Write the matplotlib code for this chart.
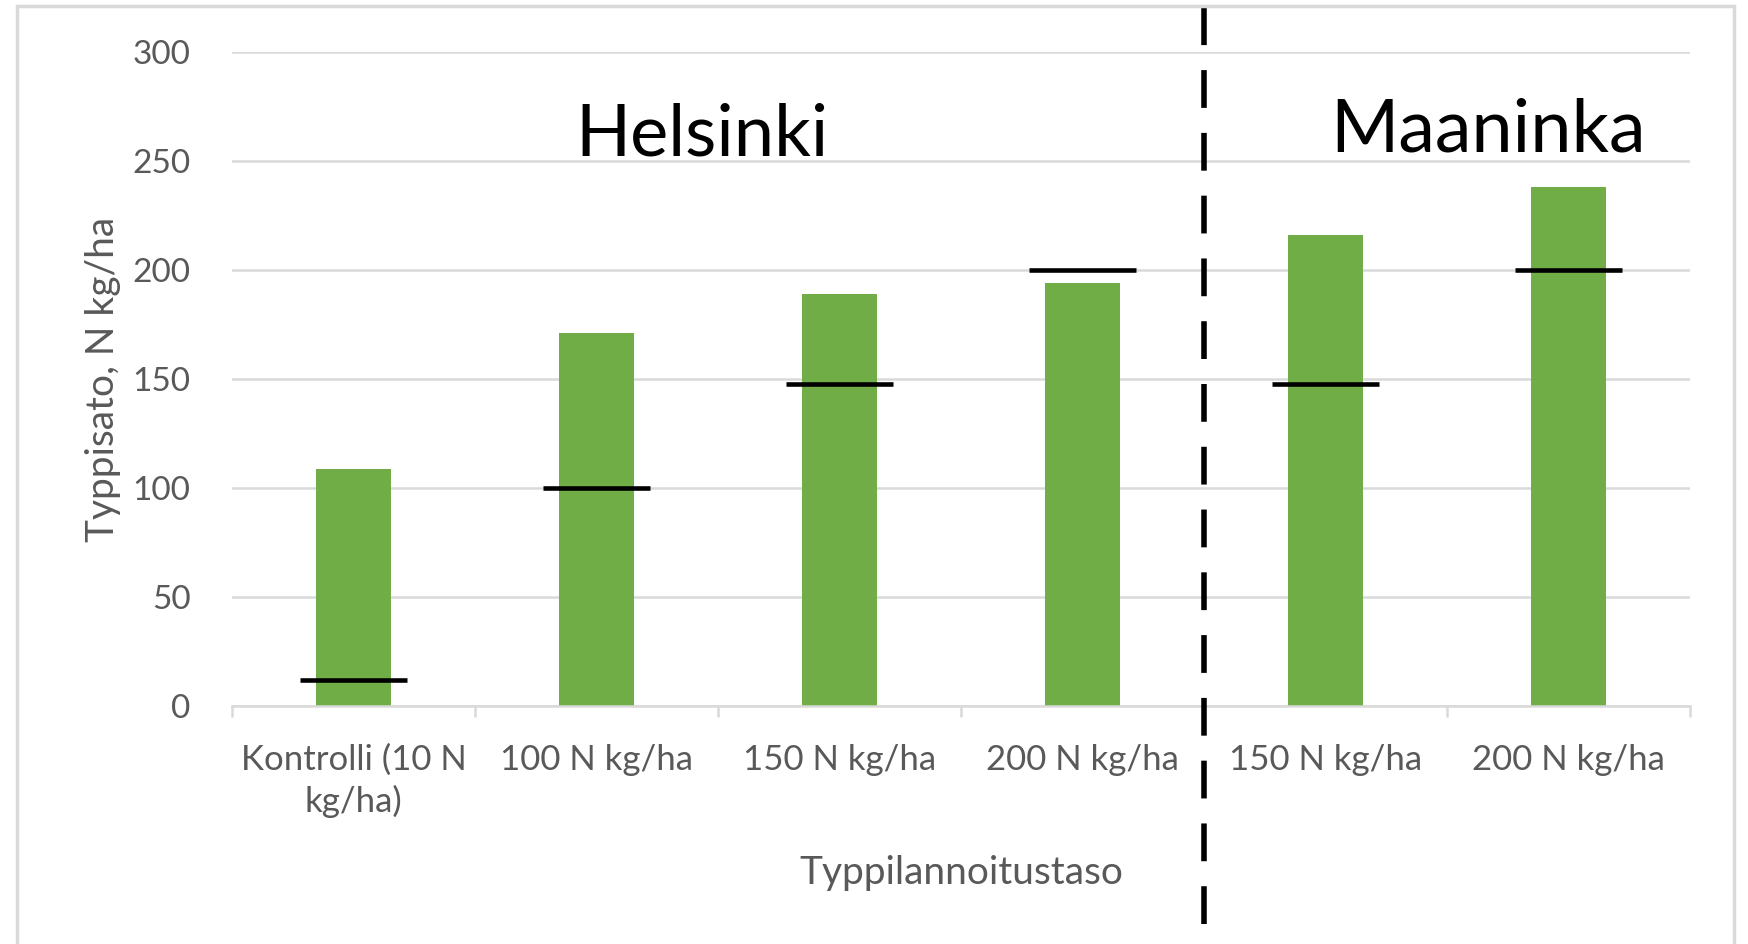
import matplotlib.pyplot as plt
from matplotlib.patches import Rectangle

# data
categories = ["Kontrolli (10 N\nkg/ha)", "100 N kg/ha", "150 N kg/ha",
              "200 N kg/ha", "150 N kg/ha", "200 N kg/ha"]
yield_n = [109, 171, 189, 194, 216, 238]      # green bars
applied_n = [12, 100, 148, 200, 148, 200]     # black dash markers
y_ticks = [0, 50, 100, 150, 200, 250, 300]

green = "#70AD47"
grey_txt = "#595959"
grid_c = "#D9D9D9"

plt.rcParams['font.family'] = ['Lato', 'DejaVu Sans']

fig = plt.figure(figsize=(17.49, 9.44), dpi=100)
ax = fig.add_axes([0.1327, 0.252, 0.8335, 0.6925])

x = list(range(len(categories)))
ax.bar(x, yield_n, width=0.31, color=green, zorder=2)
ax.hlines(applied_n, [i - 0.22 for i in x], [i + 0.22 for i in x],
          colors="black", linewidth=3.3, zorder=3)

ax.set_xlim(-0.5, len(categories) - 0.5)
ax.set_ylim(0, 300)
ax.set_yticks(y_ticks)
ax.yaxis.grid(True, color=grid_c, linewidth=1.8, zorder=0)
ax.set_axisbelow(True)

for s in ["top", "right", "left"]:
    ax.spines[s].set_visible(False)
ax.spines["bottom"].set_color(grid_c)
ax.spines["bottom"].set_linewidth(1.8)

# category boundaries as ticks, labels on minor ticks at bar centres
ax.set_xticks([i - 0.5 for i in range(len(categories) + 1)], minor=False)
ax.set_xticklabels([])
ax.tick_params(axis="x", which="major", length=8, width=1.8, color=grid_c)
ax.set_xticks(x, minor=True)
ax.set_xticklabels(categories, minor=True, fontsize=25, color=grey_txt,
                   linespacing=1.33)
ax.tick_params(axis="x", which="minor", length=0, pad=27)
ax.tick_params(axis="y", length=0, pad=30, labelsize=24, labelcolor=grey_txt)

ax.set_ylabel("Typpisato, N kg/ha", fontsize=28, color=grey_txt, labelpad=8)
ax.set_xlabel("Typpilannoitustaso", fontsize=28, color=grey_txt, labelpad=27)

# site labels
ax.text(1.436, 262, "Helsinki", fontsize=52, ha="center", va="center", color="black")
ax.text(4.67, 264, "Maaninka", fontsize=53, ha="center", va="center", color="black")

# dashed separator between sites
ax.axvline(3.5, ymin=-0.333, ymax=1.072, clip_on=False, color="black",
           linewidth=4, linestyle=(0, (6.8, 4.5)), zorder=4)

# outer chart border
fig.patches.append(Rectangle((0.0096, -0.1), 0.982, 1.094, transform=fig.transFigure,
                             fill=False, edgecolor=grid_c, linewidth=2.5))

fig.savefig("out.png", dpi=100)
